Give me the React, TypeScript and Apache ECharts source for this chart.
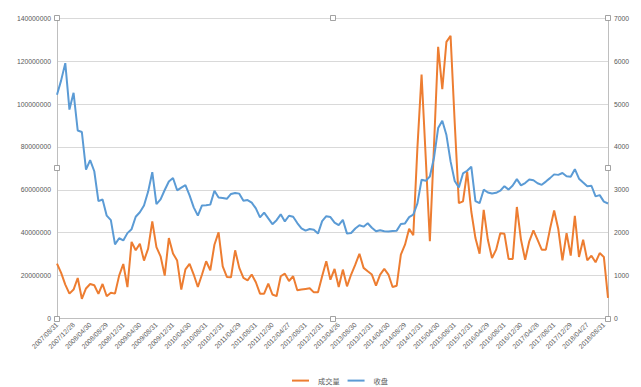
import React, { useEffect, useRef } from "react";
import * as echarts from "echarts";

const categories: string[] = [
  "2007/08/31", "2007/09/28", "2007/10/31", "2007/11/30", "2007/12/28",
  "2008/01/31", "2008/02/29", "2008/03/31", "2008/04/30", "2008/05/30", "2008/06/30", "2008/07/31", "2008/08/29", "2008/09/26", "2008/10/31", "2008/11/28", "2008/12/31",
  "2009/01/23", "2009/02/27", "2009/03/31", "2009/04/30", "2009/05/27", "2009/06/30", "2009/07/31", "2009/08/31", "2009/09/30", "2009/10/30", "2009/11/30", "2009/12/31",
  "2010/01/29", "2010/02/26", "2010/03/31", "2010/04/30", "2010/05/31", "2010/06/30", "2010/07/30", "2010/08/31", "2010/09/30", "2010/10/29", "2010/11/30", "2010/12/31",
  "2011/01/31", "2011/02/28", "2011/03/31", "2011/04/29", "2011/05/31", "2011/06/30", "2011/07/29", "2011/08/31", "2011/09/30", "2011/10/31", "2011/11/30", "2011/12/30",
  "2012/01/31", "2012/02/29", "2012/03/30", "2012/04/27", "2012/05/31", "2012/06/29", "2012/07/31", "2012/08/31", "2012/09/28", "2012/10/31", "2012/11/30", "2012/12/31",
  "2013/01/31", "2013/02/28", "2013/03/29", "2013/04/26", "2013/05/31", "2013/06/28", "2013/07/31", "2013/08/30", "2013/09/30", "2013/10/31", "2013/11/29", "2013/12/31",
  "2014/01/30", "2014/02/28", "2014/03/31", "2014/04/30", "2014/05/30", "2014/06/30", "2014/07/31", "2014/08/29", "2014/09/30", "2014/10/31", "2014/11/28", "2014/12/31",
  "2015/01/30", "2015/02/27", "2015/03/31", "2015/04/30", "2015/05/29", "2015/06/30", "2015/07/31", "2015/08/31", "2015/09/30", "2015/10/30", "2015/11/30", "2015/12/31",
  "2016/01/29", "2016/02/29", "2016/03/31", "2016/04/29", "2016/05/31", "2016/06/30", "2016/07/29", "2016/08/31", "2016/09/30", "2016/10/31", "2016/11/30", "2016/12/30",
  "2017/01/26", "2017/02/28", "2017/03/31", "2017/04/28", "2017/05/31", "2017/06/30", "2017/07/31", "2017/08/31", "2017/09/29", "2017/10/31", "2017/11/30", "2017/12/29",
  "2018/01/31", "2018/02/28", "2018/03/30", "2018/04/27", "2018/05/31", "2018/06/29", "2018/07/31", "2018/08/31", "2018/09/14",
];

// 成交量 (left axis)
const volume: number[] = [
  25600000, 21300000, 15800000, 11600000, 13500000,
  18900000, 9200000, 14000000, 16100000, 15500000, 11500000, 16100000, 10400000, 12000000, 11600000, 20000000, 25400000,
  14600000, 35700000, 31800000, 34900000, 27000000, 32600000, 45300000, 33300000, 29000000, 20000000, 37500000, 30300000,
  27000000, 13500000, 22900000, 25500000, 20500000, 14700000, 20500000, 26700000, 22500000, 34400000, 40200000, 24300000,
  19400000, 19200000, 31800000, 23600000, 18900000, 17800000, 20500000, 16900000, 11600000, 11600000, 16300000, 11200000,
  10400000, 19700000, 20900000, 17500000, 19700000, 13200000, 13500000, 13800000, 14100000, 12200000, 12200000, 19700000,
  26700000, 18100000, 23100000, 14700000, 22800000, 15000000, 20500000, 25100000, 30200000, 23600000, 22000000, 20500000,
  15300000, 20500000, 23100000, 20500000, 14700000, 15300000, 29800000, 34400000, 41900000, 38800000, 79800000, 113800000,
  75200000, 36000000, 80600000, 126700000, 107000000, 129000000, 131800000, 91300000, 53800000, 54600000, 68500000, 49900000,
  37500000, 30200000, 50700000, 36700000, 28200000, 32100000, 39800000, 39500000, 27800000, 27800000, 52000000, 36700000,
  27400000, 36000000, 41100000, 36700000, 32100000, 32100000, 41700000, 50400000, 41700000, 27100000, 39800000, 29300000,
  47900000, 28700000, 36700000, 27100000, 29300000, 26200000, 30500000, 28700000, 9600000,
];

// 收盘 (right axis)
const closeIdx: number[] = [
  5218.83, 5552.3, 5954.77, 4871.78, 5261.56,
  4383.39, 4348.54, 3472.71, 3693.11, 3433.35, 2736.1, 2775.72, 2397.37, 2293.78, 1728.79, 1871.16, 1820.81,
  1990.66, 2082.85, 2373.21, 2477.57, 2632.93, 2959.36, 3412.06, 2667.75, 2779.43, 2995.85, 3195.3, 3277.14,
  2989.29, 3051.94, 3109.1, 2870.61, 2592.15, 2398.37, 2637.5, 2638.8, 2655.66, 2978.83, 2820.18, 2808.08,
  2790.69, 2905.05, 2928.11, 2911.51, 2743.47, 2762.08, 2701.73, 2567.34, 2359.22, 2468.25, 2333.41, 2199.42,
  2292.61, 2428.49, 2262.79, 2396.32, 2372.23, 2225.43, 2103.63, 2047.52, 2086.17, 2068.88, 1980.12, 2269.13,
  2385.42, 2365.59, 2236.62, 2177.91, 2300.59, 1979.21, 1993.8, 2098.38, 2174.67, 2141.61, 2220.5, 2115.98,
  2033.08, 2056.3, 2033.31, 2026.36, 2039.21, 2048.33, 2201.56, 2217.2, 2363.87, 2420.18, 2682.83, 3234.68,
  3210.36, 3310.3, 3747.9, 4441.66, 4611.74, 4277.22, 3663.73, 3205.99, 3052.78, 3382.56, 3445.4, 3539.18,
  2737.6, 2687.98, 3003.92, 2938.32, 2916.62, 2929.61, 2979.34, 3085.49, 3004.7, 3100.49, 3250.03, 3103.64,
  3159.17, 3241.73, 3222.51, 3154.66, 3117.18, 3192.43, 3273.03, 3360.81, 3348.94, 3393.34, 3317.19, 3307.17,
  3480.83, 3259.41, 3168.9, 3082.23, 3095.47, 2847.42, 2876.4, 2725.25, 2681.64,
];

const seriesNames = ["成交量", "收盘"];
const seriesColors = ["#ED7D31", "#5B9BD5"];

const W = 641;
const H = 387;
const PLOT_LEFT = 57;
const PLOT_RIGHT = 608;
const PLOT_TOP = 18.3;
const PLOT_BOTTOM = 318.5;

const FONT = "'Liberation Sans', 'Noto Sans CJK SC', sans-serif";
const TEXT_COLOR = "#595959";

export default function App() {
  const ref = useRef<HTMLDivElement>(null);

  useEffect(() => {
    if (!ref.current) return;
    const chart = echarts.init(ref.current, undefined, { renderer: "svg" });

    const midX = (PLOT_LEFT + PLOT_RIGHT) / 2;
    const midY = (PLOT_TOP + PLOT_BOTTOM) / 2;
    const handlePts: [number, number][] = [
      [PLOT_LEFT, PLOT_TOP], [midX, PLOT_TOP], [PLOT_RIGHT, PLOT_TOP],
      [PLOT_LEFT, midY], [PLOT_RIGHT, midY],
      [PLOT_LEFT, PLOT_BOTTOM], [midX, PLOT_BOTTOM], [PLOT_RIGHT, PLOT_BOTTOM],
    ];

    chart.setOption({
      animation: false,
      backgroundColor: "#ffffff",
      textStyle: { fontFamily: FONT },
      grid: {
        left: PLOT_LEFT,
        right: W - PLOT_RIGHT,
        top: PLOT_TOP,
        bottom: H - PLOT_BOTTOM,
        containLabel: false,
      },
      legend: {
        data: seriesNames,
        left: 287,
        top: 372,
        icon: "rect",
        itemWidth: 17,
        itemHeight: 2,
        itemGap: 8,
        textStyle: { color: TEXT_COLOR, fontSize: 7.2, fontFamily: "'Noto Sans CJK SC', sans-serif", padding: [0, 0, 0, 4] },
      },
      xAxis: {
        type: "category",
        data: categories,
        boundaryGap: false,
        axisLine: { show: true, lineStyle: { color: "#BFBFBF", width: 1 } },
        axisTick: { show: false },
        axisLabel: {
          interval: 3,
          rotate: 45,
          color: TEXT_COLOR,
          fontSize: 6.8,
          margin: 5,
          fontFamily: FONT,
        },
        splitLine: { show: false },
      },
      yAxis: [
        {
          type: "value",
          min: 0,
          max: 140000000,
          interval: 20000000,
          axisLine: { show: true, lineStyle: { color: "#BFBFBF", width: 1 } },
          axisTick: { show: false },
          axisLabel: {
            color: TEXT_COLOR,
            fontSize: 6.8,
            margin: 6,
            fontFamily: FONT,
            formatter: (v: number) => String(v),
          },
          splitLine: { show: true, lineStyle: { color: "#D9D9D9", width: 1 } },
        },
        {
          type: "value",
          min: 0,
          max: 7000,
          interval: 1000,
          position: "right",
          axisLine: { show: true, lineStyle: { color: "#BFBFBF", width: 1 } },
          axisTick: { show: false },
          axisLabel: {
            color: TEXT_COLOR,
            fontSize: 6.8,
            margin: 6,
            fontFamily: FONT,
            formatter: (v: number) => String(v),
          },
          splitLine: { show: false },
        },
      ],
      series: [
        {
          name: seriesNames[0],
          type: "line",
          yAxisIndex: 0,
          data: volume,
          symbol: "none",
          color: seriesColors[0],
          lineStyle: { color: seriesColors[0], width: 2 },
          z: 2,
        },
        {
          name: seriesNames[1],
          type: "line",
          yAxisIndex: 1,
          data: closeIdx,
          symbol: "none",
          color: seriesColors[1],
          lineStyle: { color: seriesColors[1], width: 2 },
          z: 3,
        },
      ],
      graphic: handlePts.map(([x, y]) => ({
        type: "rect",
        z: 100,
        shape: { x: Math.round(x) - 2.5, y: Math.round(y) - 2.5, width: 5, height: 5 },
        style: { fill: "#ffffff", stroke: "#8C8C8C", lineWidth: 0.8 },
      })),
    });

    return () => {
      chart.dispose();
    };
  }, []);

  return (
    <div
      ref={ref}
      style={{ position: "fixed", left: 0, top: 0, width: W, height: H, background: "#fff" }}
    />
  );
}
